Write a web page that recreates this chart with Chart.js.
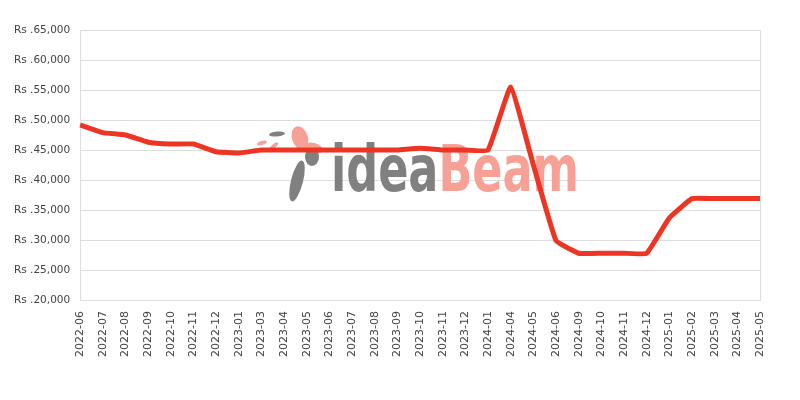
<!DOCTYPE html>
<html>
<head>
<meta charset="utf-8">
<script src="https://cdn.jsdelivr.net/npm/chart.js@4"></script>
<style>
  html, body { margin: 0; padding: 0; background: #fff; }
  #wrap { width: 800px; height: 400px; }
</style>
</head>
<body>
<div id="wrap"><canvas id="priceChart" width="800" height="400"></canvas></div>
<script>
const months = ['2022-06', '2022-07', '2022-08', '2022-09', '2022-10', '2022-11', '2022-12',
    '2023-01', '2023-03', '2023-04', '2023-05', '2023-06', '2023-07', '2023-08', '2023-09',
    '2023-10', '2023-11', '2023-12', '2024-01', '2024-04', '2024-05', '2024-06', '2024-09',
    '2024-10', '2024-11', '2024-12', '2025-01', '2025-02', '2025-03', '2025-04', '2025-05'];

const prices = [49200, 47900, 47500, 46300, 46000, 46000, 44700,
    44500, 45000, 45000, 45000, 45000, 45000, 45000, 45000,
    45300, 45000, 45000, 45000, 55500, 42500, 29900, 27800,
    27800, 27800, 27800, 33700, 36900, 36900, 36900, 36900];

const yMin = 20000;
const yMax = 65000;
const yStep = 5000;

// watermark + right border
const extras = {
    id: 'extras',
    beforeDatasetsDraw(chart) {
        const ctx = chart.ctx;
        ctx.save();
        ctx.font = 'bold 64px "DejaVu Sans Condensed"';
        ctx.textBaseline = 'alphabetic';
        const w1 = ctx.measureText('idea').width;
        const w2 = ctx.measureText('Beam').width;
        const sx = 248 / (w1 + w2);
        ctx.translate(331, 191);
        ctx.scale(sx, 1);
        ctx.fillStyle = '#808080';
        ctx.fillText('idea', 0, 0);
        ctx.fillStyle = '#f7a096';
        ctx.fillText('Beam', w1, 0);
        ctx.restore();

        // little bird and feather
        ctx.save();
        ctx.fillStyle = '#f7a096';
        ctx.beginPath();
        ctx.ellipse(300, 138, 8, 12, -0.3, 0, Math.PI * 2);
        ctx.fill();
        ctx.beginPath();
        ctx.ellipse(314, 148, 9, 5, 0.3, 0, Math.PI * 2);
        ctx.fill();
        ctx.beginPath();
        ctx.ellipse(262, 143, 5, 2, -0.3, 0, Math.PI * 2);
        ctx.fill();
        ctx.beginPath();
        ctx.ellipse(274, 146, 5, 2, -0.7, 0, Math.PI * 2);
        ctx.fill();
        ctx.fillStyle = '#808080';
        ctx.beginPath();
        ctx.ellipse(277, 134, 8, 2.5, -0.1, 0, Math.PI * 2);
        ctx.fill();
        ctx.beginPath();
        ctx.ellipse(297, 181, 6, 21, 0.25, 0, Math.PI * 2);
        ctx.fill();
        ctx.beginPath();
        ctx.ellipse(312, 157, 7, 9, 0, 0, Math.PI * 2);
        ctx.fill();
        ctx.restore();

        const a = chart.chartArea;
        ctx.save();
        ctx.strokeStyle = '#dddddd';
        ctx.lineWidth = 1;
        ctx.beginPath();
        ctx.moveTo(a.right + 0.5, a.top);
        ctx.lineTo(a.right + 0.5, a.bottom);
        ctx.stroke();
        ctx.restore();
    }
};

const ctx = document.getElementById('priceChart').getContext('2d');

new Chart(ctx, {
    type: 'line',
    data: {
        labels: months,
        datasets: [{
            label: 'Price',
            data: prices,
            borderColor: '#ee3524',
            backgroundColor: '#ee3524',
            borderWidth: 5,
            pointRadius: 0,
            tension: 0.1,
            fill: false
        }]
    },
    options: {
        responsive: false,
        animation: false,
        layout: {
            padding: { left: 4, right: 40, top: 30, bottom: 40 }
        },
        plugins: {
            legend: { display: false },
            tooltip: { enabled: false }
        },
        scales: {
            x: {
                grid: { display: false },
                border: { color: '#dddddd' },
                ticks: {
                    color: '#444',
                    font: { family: 'DejaVu Sans', size: 11 },
                    maxRotation: 90,
                    minRotation: 90,
                    autoSkip: false
                }
            },
            y: {
                min: yMin,
                max: yMax,
                grid: { color: '#dddddd', drawTicks: false },
                border: { color: '#dddddd' },
                ticks: {
                    stepSize: yStep,
                    padding: 10,
                    color: '#444',
                    font: { family: 'DejaVu Sans', size: 10.5 },
                    callback: v => 'Rs .' + v.toLocaleString('en-US')
                }
            }
        }
    },
    plugins: [extras]
});
</script>
</body>
</html>
